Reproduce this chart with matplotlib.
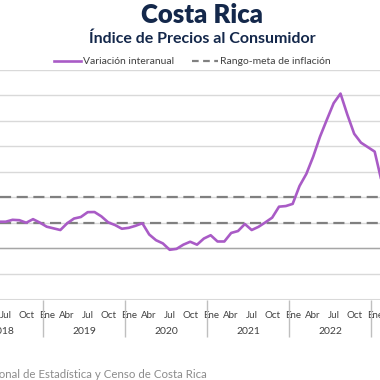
import matplotlib
matplotlib.use("Agg")
import matplotlib.pyplot as plt

plt.rcParams['font.family'] = ['Lato', 'DejaVu Sans']

# meses desde ene-2018 (0 = ene 2018)
meses = list(range(4, 62))
variacion = [2.10, 2.10, 2.10, 2.25, 2.22, 2.02, 2.30, 2.03,
             1.71, 1.58, 1.45, 1.98, 2.35, 2.47, 2.85, 2.86, 2.52, 2.05, 1.84, 1.55,
             1.62, 1.78, 1.98, 1.10, 0.65, 0.40, -0.10, -0.03, 0.30, 0.53, 0.30, 0.78,
             1.04, 0.55, 0.55, 1.22, 1.37, 1.92, 1.45, 1.70, 2.05, 2.42, 3.28, 3.33,
             3.50, 4.90, 5.85, 7.20, 8.77, 10.10, 11.40, 12.15, 10.50, 9.00, 8.30, 7.95,
             7.60, 5.30]
meta_inf = 2
meta_sup = 4
anios = [2018, 2019, 2020, 2021, 2022, 2023]
nombres_mes = ["Ene", "Abr", "Jul", "Oct"]

morado = "#a95bc6"
azul = "#14284b"
gris_txt = "#404040"

fig = plt.figure(figsize=(3.8, 3.8), dpi=100)
ax = fig.add_axes([0, 1 - 299.5 / 380, 1, (299.5 - 70) / 380])

ax.set_yticks(range(-4, 15, 2))
ax.yaxis.grid(True, color="#d9d9d9", linewidth=1)
ax.set_axisbelow(True)
for s in ax.spines.values():
    s.set_visible(False)
ax.tick_params(axis="y", left=False, labelleft=False)
ax.axhline(0, color="#a6a6a6", linewidth=1, zorder=1)
ax.axhline(-4, color="#d9d9d9", linewidth=1.5, zorder=1)

ax.axhline(meta_inf, color="#808080", linewidth=1.6, dashes=(5, 2.5), zorder=2)
ax.axhline(meta_sup, color="#808080", linewidth=1.6, dashes=(5, 2.5), zorder=2)

ax.plot(meses, variacion, color=morado, linewidth=1.9, zorder=3,
        solid_joinstyle="round", solid_capstyle="round")

# eje de categorías en dos niveles
ticks = []
etiquetas = []
for i, a in enumerate(anios):
    for j, n in enumerate(nombres_mes):
        ticks.append(12 * i + 3 * j)
        etiquetas.append(n)
ax.set_xticks(ticks)
ax.set_xticklabels(etiquetas, fontsize=7, color=gris_txt)
ax.tick_params(axis="x", length=0, pad=8)

tr = ax.get_xaxis_transform()
alto = 229.5
ax.vlines([12 * i - 0.5 for i in range(len(anios) + 1)], -(337 - 299.5) / alto, 0,
          transform=tr, color="#bfbfbf", linewidth=1, clip_on=False)
for i, a in enumerate(anios):
    ax.text(12 * i + 5.5, -(331 - 299.5) / alto, str(a), transform=tr,
            ha="center", va="center", fontsize=7.5, color=gris_txt, clip_on=False)

ax.set_xlim(5.166, 60.78)
ax.set_ylim(-4, 14)

fig.text(202 / 380, 1 - 15 / 380, "Costa Rica", ha="center", va="center",
         fontsize=18.5, fontweight="heavy", color=azul)
fig.text(202 / 380, 1 - 39 / 380, "Índice de Precios al Consumidor", ha="center",
         va="center", fontsize=11.5, fontweight="bold", color=azul)

# leyenda
yl = 1 - 61 / 380
fig.add_artist(plt.Line2D([54 / 380, 81 / 380], [yl, yl], color=morado, linewidth=1.9))
fig.text(83 / 380, yl, "Variación interanual", ha="left", va="center", fontsize=7.5, color=gris_txt)
fig.add_artist(plt.Line2D([192 / 380, 218 / 380], [yl, yl], color="#808080",
                          linewidth=1.6, dashes=(3, 2)))
fig.text(220 / 380, yl, "Rango-meta de inflación", ha="left", va="center", fontsize=7.5, color=gris_txt)

fig.text(207 / 380, 1 - 374 / 380,
         "Fuente: Instituto Nacional de Estadística y Censo de Costa Rica",
         ha="right", va="center", fontsize=8.3, color="#8c8c8c")

fig.savefig("out.png", dpi=100, facecolor="white")
